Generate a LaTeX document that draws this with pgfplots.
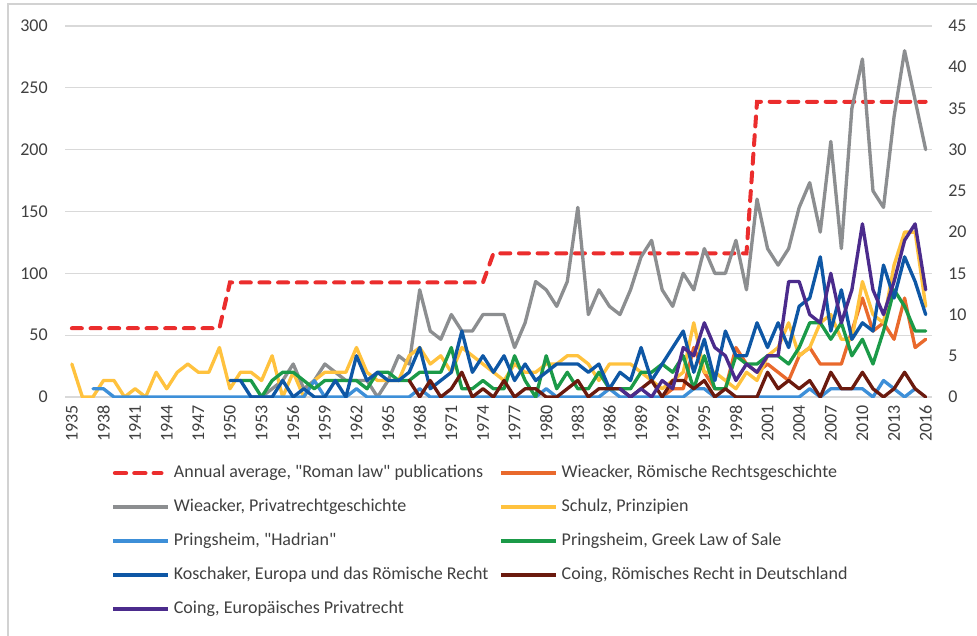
\documentclass[border=0pt]{standalone}
\usepackage{pgfplots}
\pgfplotsset{compat=1.18}
\usepackage{pgfplotstable}
\usepackage{fontspec}
\setmainfont{Carlito}

\definecolor{redc}{RGB}{235,45,45}
\definecolor{orangec}{RGB}{233,105,44}
\definecolor{grayc}{RGB}{140,142,144}
\definecolor{yellowc}{RGB}{255,194,62}
\definecolor{lbluec}{RGB}{61,143,216}
\definecolor{greenc}{RGB}{27,154,72}
\definecolor{dbluec}{RGB}{14,87,165}
\definecolor{brownc}{RGB}{107,26,14}
\definecolor{purplec}{RGB}{75,43,140}
\definecolor{gridc}{RGB}{217,217,217}
\definecolor{framec}{RGB}{210,210,210}
\definecolor{textc}{RGB}{64,64,64}

\pgfplotstableread{
year v
1935 55.6
1949 55.6
1950 92.6
1974 92.6
1975 116.2
1999 116.2
2000 238.7
2016 238.7
}\redavg

\pgfplotstableread{
year v
1991 0
1992 1
1993 1
1994 6
1995 3
1996 1
1997 1
1998 6
1999 4
2000 3
2001 4
2002 3
2003 2
2004 5
2005 6
2006 4
2007 4
2008 4
2009 8
2010 12
2011 8
2012 9
2013 7
2014 12
2015 6
2016 7
}\orangeT

\pgfplotstableread{
year v
1952 0
1953 0
1954 1
1955 2
1956 4
1957 1
1958 2
1959 4
1960 3
1961 2
1962 2
1963 2
1964 0
1965 2
1966 5
1967 4
1968 13
1969 8
1970 7
1971 10
1972 8
1973 8
1974 10
1975 10
1976 10
1977 6
1978 9
1979 14
1980 13
1981 11
1982 14
1983 23
1984 10
1985 13
1986 11
1987 10
1988 13
1989 17
1990 19
1991 13
1992 11
1993 15
1994 13
1995 18
1996 15
1997 15
1998 19
1999 13
2000 24
2001 18
2002 16
2003 18
2004 23
2005 26
2006 20
2007 31
2008 18
2009 35
2010 41
2011 25
2012 23
2013 34
2014 42
2015 36
2016 30
}\grayT

\pgfplotstableread{
year v
1935 4
1936 0
1937 0
1938 2
1939 2
1940 0
1941 1
1942 0
1943 3
1944 1
1945 3
1946 4
1947 3
1948 3
1949 6
1950 1
1951 3
1952 3
1953 2
1954 5
1955 0
1956 3
1957 0
1958 2
1959 3
1960 3
1961 3
1962 6
1963 3
1964 2
1965 2
1966 2
1967 5
1968 6
1969 4
1970 5
1971 3
1972 6
1973 5
1974 4
1975 3
1976 2
1977 4
1978 3
1979 3
1980 4
1981 4
1982 5
1983 5
1984 4
1985 2
1986 4
1987 4
1988 4
1989 3
1990 2
1991 1
1992 2
1993 3
1994 9
1995 3
1996 3
1997 2
1998 1
1999 3
2000 2
2001 5
2002 6
2003 9
2004 5
2005 6
2006 9
2007 10
2008 7
2009 7
2010 14
2011 10
2012 9
2013 16
2014 20
2015 20
2016 11
}\yellowT

\pgfplotstableread{
year v
1937 1
1938 1
1939 0
1957 0
1958 2
1959 0
1961 0
1962 1
1963 0
1967 0
1968 1
1969 0
1979 0
1980 1
1981 0
1985 0
1986 1
1987 0
1993 0
1994 1
1995 1
1996 0
2004 0
2005 1
2006 0
2007 1
2008 1
2009 1
2010 1
2011 0
2012 2
2013 1
2014 0
2015 1
}\lblueT

\pgfplotstableread{
year v
1951 2
1952 2
1953 0
1954 2
1955 3
1956 3
1957 2
1958 1
1959 2
1960 2
1961 2
1962 2
1963 1
1964 3
1965 3
1966 2
1967 2
1968 3
1969 3
1970 3
1971 6
1972 1
1973 1
1974 2
1975 1
1976 1
1977 5
1978 2
1979 0
1980 5
1981 1
1982 3
1983 1
1984 1
1985 3
1986 1
1987 1
1988 1
1989 3
1990 3
1991 4
1992 3
1993 5
1994 1
1995 5
1996 1
1997 1
1998 5
1999 4
2000 4
2001 5
2002 5
2003 4
2004 6
2005 9
2006 9
2007 7
2008 9
2009 5
2010 7
2011 4
2012 8
2013 13
2014 11
2015 8
2016 8
}\greenT

\pgfplotstableread{
year v
1950 2
1951 2
1952 0
1953 0
1954 0
1955 2
1956 0
1957 1
1958 0
1959 0
1960 2
1961 0
1962 5
1963 2
1964 3
1965 2
1966 2
1967 3
1968 6
1969 1
1970 2
1971 3
1972 8
1973 3
1974 5
1975 3
1976 5
1977 2
1978 4
1979 2
1980 3
1981 4
1982 4
1983 4
1984 3
1985 4
1986 1
1987 3
1988 2
1989 6
1990 2
1991 4
1992 6
1993 8
1994 3
1995 7
1996 2
1997 8
1998 5
1999 5
2000 9
2001 6
2002 9
2003 6
2004 11
2005 12
2006 17
2007 8
2008 13
2009 7
2010 9
2011 8
2012 16
2013 12
2014 17
2015 14
2016 10
}\dblueT

\pgfplotstableread{
year v
1967 2
1968 0
1969 2
1970 0
1971 1
1972 3
1973 0
1974 1
1975 0
1976 2
1977 0
1978 1
1979 1
1980 0
1981 0
1982 1
1983 2
1984 0
1985 1
1986 1
1987 1
1988 0
1989 1
1990 2
1991 0
1992 2
1993 2
1994 1
1995 2
1996 0
1997 1
1998 0
1999 0
2000 0
2001 3
2002 1
2003 2
2004 1
2005 2
2006 0
2007 3
2008 1
2009 1
2010 3
2011 1
2012 0
2013 1
2014 3
2015 1
2016 0
}\brownT

\pgfplotstableread{
year v
1987 1
1988 0
1989 1
1990 0
1991 2
1992 1
1993 6
1994 5
1995 9
1996 6
1997 5
1998 2
1999 4
2000 3
2001 5
2002 5
2003 14
2004 14
2005 10
2006 9
2007 15
2008 9
2009 13
2010 21
2011 13
2012 10
2013 14
2014 19
2015 21
2016 13
}\purpleT

\pgfplotsset{
  common/.style={
    width=650.25pt, height=278.25pt, scale only axis,
    at={(0,0)}, anchor=south west,
    xmin=1934.35, xmax=2016.6,
    major tick length=0pt,
    axis line style={draw=none},
    tick label style={font=\fontsize{13.5}{16}\selectfont, text=textc,
      /pgf/number format/assume math mode=true,
      /pgf/number format/1000 sep={}},
  },
  ser/.style={line width=2.5pt, line join=round, line cap=round, no markers},
}

\begin{document}
\begin{tikzpicture}
\useasboundingbox (-48.75pt,-178.5pt) rectangle (684pt,297.75pt);
\draw[framec, line width=1.5pt] (-42.75pt,-200pt) -- (-42.75pt,294.75pt) -- (700pt,294.75pt);

\begin{axis}[common,
  ymin=0, ymax=300, ytick={0,50,...,300},
  ymajorgrids, grid style={gridc, line width=1pt},
  xtick={1935,1938,...,2016},
  xticklabel style={inner sep=0pt, anchor=east, yshift=-6pt, rotate=90},
  yticklabel style={anchor=east, inner sep=0pt, xshift=-12.75pt},
]
\addplot[redc, line width=3pt, line cap=round, dash pattern=on 7.5pt off 6.5pt, no markers] table[x=year,y=v] {\redavg};
\end{axis}

\begin{axis}[common,
  ymin=0, ymax=45, ytick={0,5,...,45},
  axis y line*=right, axis x line=none,
  yticklabel style={anchor=west, inner sep=0pt, xshift=12pt},
  legend columns=2,
  legend cell align=left,
  legend style={at={(0.053,-0.181)}, anchor=north west, draw=none, fill=none,
    inner sep=0pt, row sep=12.5pt, column sep=0pt,
    font=\fontsize{13.5}{16}\selectfont, text=textc,
    nodes={inner sep=0pt, text height=10pt, text depth=3pt},
    /tikz/every odd column/.append style={column sep=3pt},
    /tikz/every even column/.append style={column sep=8pt}},
  legend image code/.code={\draw[#1, line width=3pt, line cap=butt] (0pt,0pt) -- (41pt,0pt);},
]
\addlegendimage{legend image code/.code={\draw[redc, line width=3.5pt, line cap=round, dash pattern=on 8pt off 6.5pt] (1.5pt,0pt) -- (36pt,0pt);}}
\addlegendentry{Annual average, \textquotedbl Roman law\textquotedbl{} publications}
\addplot[ser, orangec] table[x=year,y=v] {\orangeT};
\addlegendentry{Wieacker, Römische Rechtsgeschichte}
\addplot[ser, grayc] table[x=year,y=v] {\grayT};
\addlegendentry{Wieacker, Privatrechtgeschichte}
\addplot[ser, yellowc] table[x=year,y=v] {\yellowT};
\addlegendentry{Schulz, Prinzipien}
\addplot[ser, lbluec] table[x=year,y=v] {\lblueT};
\addlegendentry{Pringsheim, \textquotedbl Hadrian\textquotedbl}
\addplot[ser, greenc] table[x=year,y=v] {\greenT};
\addlegendentry{Pringsheim, Greek Law of Sale}
\addplot[ser, dbluec] table[x=year,y=v] {\dblueT};
\addlegendentry{Koschaker, Europa und das Römische Recht}
\addplot[ser, brownc] table[x=year,y=v] {\brownT};
\addlegendentry{Coing, Römisches Recht in Deutschland}
\addplot[ser, purplec] table[x=year,y=v] {\purpleT};
\addlegendentry{Coing, Europäisches Privatrecht}
\end{axis}
\end{tikzpicture}
\end{document}
